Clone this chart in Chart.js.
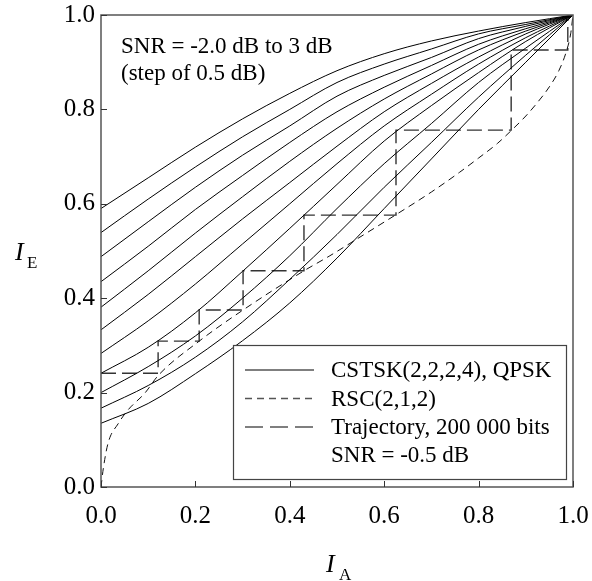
<!DOCTYPE html>
<html>
<head>
<meta charset="utf-8">
<script src="https://cdn.jsdelivr.net/npm/chart.js@4"></script>
<style>
html,body{margin:0;padding:0;background:#fff;}
canvas{display:block;}
</style>
</head>
<body>
<canvas id="c" width="592" height="581"></canvas>
<script>
// ---- data ----
const iaGrid = [0, 0.1, 0.2, 0.3, 0.4, 0.5, 0.6, 0.7, 0.8, 0.9, 1.0];
const snrValues = ['-2.0', '-1.5', '-1.0', '-0.5', '0.0', '0.5', '1.0', '1.5', '2.0', '2.5', '3.0'];
const ieSnrM20 = [0.135, 0.177, 0.240, 0.310, 0.390, 0.485, 0.590, 0.695, 0.800, 0.900, 1];
const ieSnrM15 = [0.167, 0.215, 0.275, 0.350, 0.440, 0.535, 0.635, 0.730, 0.826, 0.915, 1];
const ieSnrM10 = [0.200, 0.255, 0.320, 0.400, 0.490, 0.590, 0.685, 0.770, 0.857, 0.930, 1];
const ieSnrM05 = [0.241, 0.296, 0.369, 0.457, 0.548, 0.641, 0.733, 0.808, 0.878, 0.944, 1];
const ieSnr00  = [0.283, 0.352, 0.430, 0.515, 0.600, 0.685, 0.765, 0.832, 0.896, 0.952, 1];
const ieSnr05  = [0.333, 0.408, 0.488, 0.568, 0.645, 0.722, 0.795, 0.855, 0.911, 0.960, 1];
const ieSnr10  = [0.381, 0.458, 0.538, 0.615, 0.690, 0.760, 0.822, 0.875, 0.926, 0.966, 1];
const ieSnr15  = [0.435, 0.510, 0.588, 0.660, 0.730, 0.795, 0.847, 0.893, 0.938, 0.971, 1];
const ieSnr20  = [0.488, 0.562, 0.635, 0.703, 0.765, 0.828, 0.872, 0.910, 0.950, 0.976, 1];
const ieSnr25  = [0.539, 0.610, 0.678, 0.742, 0.800, 0.857, 0.896, 0.928, 0.960, 0.980, 1];
const ieSnr30  = [0.590, 0.655, 0.720, 0.780, 0.834, 0.882, 0.918, 0.945, 0.966, 0.984, 1];

const rscIA = [0, 0.005, 0.015, 0.037, 0.057, 0.093, 0.121, 0.208, 0.301, 0.430, 0.485, 0.556, 0.625, 0.700, 0.760, 0.800, 0.840, 0.870, 0.900, 0.925, 0.950, 0.970, 0.985, 0.995, 1];
const rscIE = [0, 0.040, 0.093, 0.135, 0.163, 0.199, 0.236, 0.309, 0.375, 0.458, 0.490, 0.534, 0.577, 0.625, 0.667, 0.697, 0.728, 0.756, 0.786, 0.815, 0.848, 0.882, 0.920, 0.960, 1];

const trajIA = [0, 0.121, 0.121, 0.208, 0.208, 0.301, 0.301, 0.430, 0.430, 0.625, 0.625, 0.869, 0.869, 0.989, 0.989];
const trajIE = [0.241, 0.241, 0.309, 0.309, 0.375, 0.375, 0.458, 0.458, 0.576, 0.576, 0.756, 0.756, 0.926, 0.926, 0.99];

const xTicks = [0, 0.2, 0.4, 0.6, 0.8, 1.0];
const yTicks = [0, 0.2, 0.4, 0.6, 0.8, 1.0];

const legendLabels = ['CSTSK(2,2,2,4), QPSK', 'RSC(2,1,2)', 'Trajectory, 200 000 bits', 'SNR = -0.5 dB'];
const noteLines = ['SNR = -2.0 dB to 3 dB', '(step of 0.5 dB)'];

// ---- build datasets ----
const curveSet = [ieSnrM20, ieSnrM15, ieSnrM10, ieSnrM05, ieSnr00, ieSnr05, ieSnr10, ieSnr15, ieSnr20, ieSnr25, ieSnr30];
const zip = (xs, ys) => xs.map((x, i) => ({x: x, y: ys[i]}));

const datasets = curveSet.map((vals, k) => ({
  label: 'SNR ' + snrValues[k] + ' dB',
  data: zip(iaGrid, vals),
  showLine: true,
  borderColor: '#000',
  borderWidth: 1,
  pointRadius: 0,
  cubicInterpolationMode: 'monotone'
}));
datasets.push({
  label: 'RSC',
  data: zip(rscIA, rscIE),
  showLine: true,
  borderColor: '#111',
  borderWidth: 1,
  borderDash: [7, 5],
  pointRadius: 0,
  cubicInterpolationMode: 'monotone'
});
datasets.push({
  label: 'Trajectory',
  data: zip(trajIA, trajIE),
  showLine: true,
  borderColor: '#333',
  borderWidth: 1.4,
  borderDash: [15, 6],
  pointRadius: 0,
  tension: 0
});

const SERIF = "'Liberation Serif', 'Times New Roman', Times, serif";

const decor = {
  id: 'decor',
  afterDatasetsDraw(chart) {
    const ctx = chart.ctx;
    const xs = chart.scales.x, ys = chart.scales.y;
    const a = chart.chartArea;
    ctx.save();
    // note text
    ctx.fillStyle = '#000';
    ctx.font = '23px ' + SERIF;
    ctx.textAlign = 'left';
    ctx.textBaseline = 'alphabetic';
    ctx.fillText(noteLines[0], 121, 53);
    ctx.fillText(noteLines[1], 121, 80);

    // legend box
    const bx = 233, by = 345, bw = 333, bh = 134;
    ctx.fillStyle = '#fff';
    ctx.fillRect(bx, by, bw, bh);
    ctx.strokeStyle = '#444';
    ctx.lineWidth = 1.2;
    ctx.strokeRect(bx + 0.5, by + 0.5, bw, bh);
    const rows = [370, 398.5, 427, 455];
    const dashes = [[], [7, 5], [18, 7]];
    ctx.strokeStyle = '#555';
    ctx.lineWidth = 1.5;
    for (let i = 0; i < 3; i++) {
      ctx.setLineDash(dashes[i]);
      ctx.beginPath();
      ctx.moveTo(245, rows[i]);
      ctx.lineTo(314, rows[i]);
      ctx.stroke();
    }
    ctx.setLineDash([]);
    ctx.fillStyle = '#000';
    ctx.font = '23px ' + SERIF;
    ctx.textBaseline = 'middle';
    for (let i = 0; i < 4; i++) ctx.fillText(legendLabels[i], 331, rows[i] + 1);

    // frame
    ctx.strokeStyle = '#555';
    ctx.lineWidth = 1.5;
    ctx.strokeRect(a.left, a.top, a.right - a.left, a.bottom - a.top);
    // inward ticks
    ctx.lineWidth = 1;
    ctx.strokeStyle = '#333';
    xTicks.forEach(v => {
      const px = Math.round(xs.getPixelForValue(v)) + 0.5;
      ctx.beginPath(); ctx.moveTo(px, a.bottom); ctx.lineTo(px, a.bottom - 6); ctx.stroke();
    });
    yTicks.forEach(v => {
      const py = Math.round(ys.getPixelForValue(v)) + 0.5;
      ctx.beginPath(); ctx.moveTo(a.left, py); ctx.lineTo(a.left + 6, py); ctx.stroke();
    });

    // axis titles
    ctx.textBaseline = 'alphabetic';
    ctx.fillStyle = '#000';
    ctx.font = 'italic 26px ' + SERIF;
    ctx.fillText('I', 326, 572);
    ctx.font = '17px ' + SERIF;
    ctx.fillText('A', 339, 580);
    ctx.font = 'italic 26px ' + SERIF;
    ctx.fillText('I', 15, 260);
    ctx.font = '17px ' + SERIF;
    ctx.fillText('E', 27, 268);
    ctx.restore();
  }
};

const zeroPad = s => { s.paddingLeft = 0; s.paddingRight = 0; s.paddingTop = 0; s.paddingBottom = 0; };

new Chart(document.getElementById('c'), {
  type: 'scatter',
  data: { datasets: datasets },
  options: {
    responsive: false,
    animation: false,
    devicePixelRatio: 1,
    layout: { padding: { top: 15, right: 19, left: 0, bottom: 0 } },
    plugins: { legend: { display: false }, tooltip: { enabled: false } },
    scales: {
      x: {
        type: 'linear', min: 0, max: 1,
        afterFit: s => { s.height = 94; zeroPad(s); },
        afterBuildTicks: s => { s.ticks = xTicks.map(v => ({value: v})); },
        grid: { display: false, drawTicks: false },
        border: { display: false },
        ticks: { padding: 14, color: '#000', font: { family: SERIF, size: 25 }, maxRotation: 0, autoSkip: false,
                 callback: v => Number(v).toFixed(1) }
      },
      y: {
        type: 'linear', min: 0, max: 1,
        afterFit: s => { s.width = 101; zeroPad(s); },
        afterBuildTicks: s => { s.ticks = yTicks.map(v => ({value: v})); },
        grid: { display: false, drawTicks: false },
        border: { display: false },
        ticks: { padding: 6, color: '#000', font: { family: SERIF, size: 25 }, autoSkip: false,
                 callback: v => Number(v).toFixed(1) }
      }
    }
  },
  plugins: [decor]
});
</script>
</body>
</html>
